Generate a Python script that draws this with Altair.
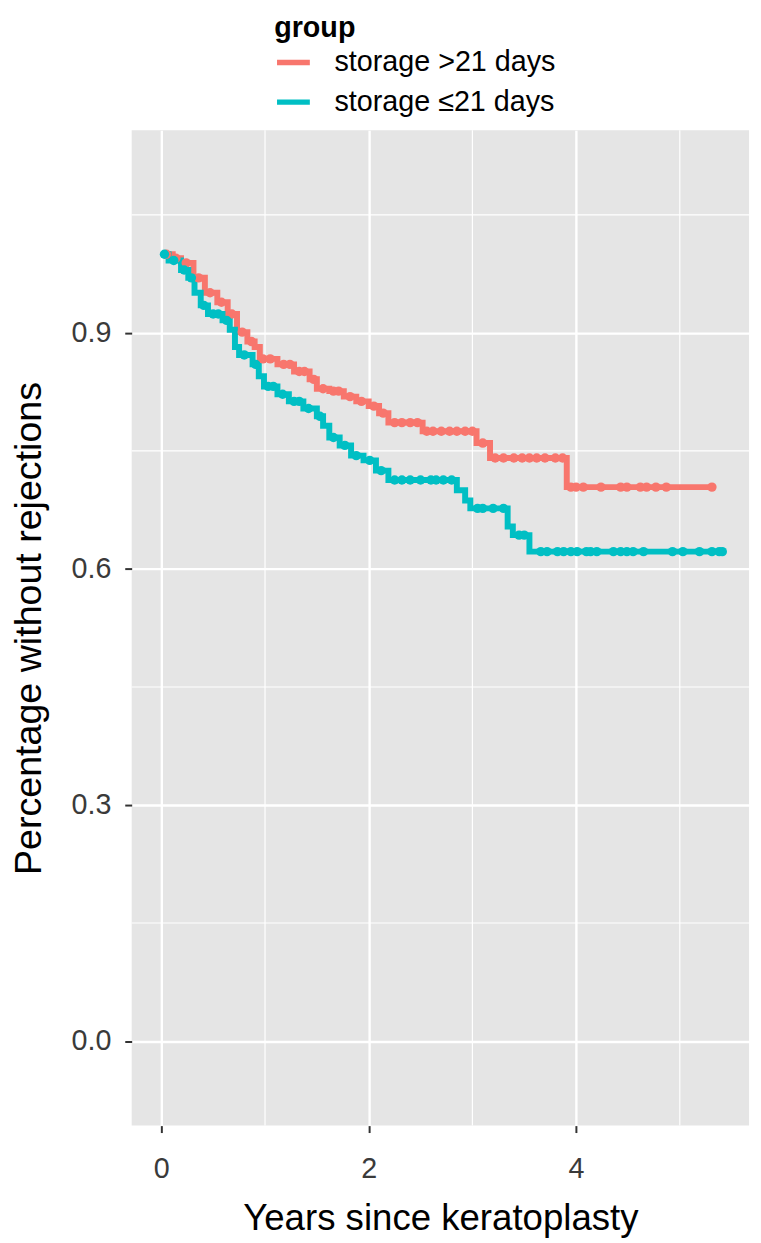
import altair as alt
import pandas as pd

groups = ["storage >21 days", "storage \u226421 days"]
colors = ["#F8766D", "#00BFC4"]

# Kaplan-Meier steps: storage >21 days
red_time = [0.00, 0.11, 0.19, 0.31, 0.42, 0.54, 0.64, 0.73, 0.83, 0.90, 0.95, 1.12, 1.28,
            1.43, 1.50, 1.62, 1.76, 1.88, 2.00, 2.10, 2.19, 2.52, 3.04, 3.17, 3.91, 5.31]
red_surv = [1.000, 0.995, 0.989, 0.970, 0.951, 0.939, 0.924, 0.901, 0.889, 0.882, 0.867, 0.860, 0.851,
            0.841, 0.829, 0.826, 0.819, 0.813, 0.807, 0.798, 0.786, 0.775, 0.760, 0.741, 0.704, 0.704]
red_censor = [0.05, 0.14, 0.24, 0.36, 0.47, 0.58, 0.68, 0.78, 0.87, 0.98, 1.05, 1.18, 1.24, 1.33,
              1.38, 1.47, 1.56, 1.66, 1.71, 1.82, 1.93, 2.05, 2.14, 2.25, 2.32, 2.40, 2.47, 2.56,
              2.62, 2.70, 2.78, 2.85, 2.93, 3.00, 3.10, 3.22, 3.30, 3.40, 3.48, 3.55, 3.62, 3.70,
              3.80, 3.87, 3.95, 4.00, 4.07, 4.24, 4.43, 4.49, 4.62, 4.68, 4.77, 4.87, 5.31]

# Kaplan-Meier steps: storage <=21 days
teal_time = [0.00, 0.07, 0.19, 0.26, 0.32, 0.38, 0.45, 0.59, 0.66, 0.71, 0.75, 0.88, 0.94, 0.99,
             1.12, 1.23, 1.37, 1.50, 1.56, 1.62, 1.72, 1.83, 1.95, 2.07, 2.19, 2.85, 2.93, 2.98,
             3.34, 3.39, 3.55, 5.41]
teal_surv = [1.000, 0.992, 0.980, 0.970, 0.951, 0.935, 0.924, 0.916, 0.904, 0.882, 0.872, 0.860,
             0.845, 0.832, 0.822, 0.813, 0.804, 0.794, 0.782, 0.767, 0.757, 0.744, 0.738, 0.725,
             0.713, 0.700, 0.687, 0.677, 0.654, 0.643, 0.622, 0.622]
teal_censor = [0.03, 0.12, 0.22, 0.29, 0.41, 0.50, 0.55, 0.63, 0.80, 0.91, 1.03, 1.08, 1.17, 1.28,
               1.33, 1.42, 1.53, 1.66, 1.77, 1.88, 2.01, 2.12, 2.25, 2.32, 2.40, 2.50, 2.60, 2.65,
               2.72, 2.80, 3.05, 3.10, 3.20, 3.30, 3.45, 3.50, 3.66, 3.72, 3.82, 3.88, 3.95, 4.01,
               4.10, 4.14, 4.20, 4.36, 4.43, 4.49, 4.55, 4.65, 4.93, 5.03, 5.19, 5.31, 5.38, 5.41]

x_major = [0, 2, 4]
y_major = [0.0, 0.3, 0.6, 0.9]
x_minor = [1, 3, 5]
y_minor = [0.15, 0.45, 0.75, 1.05]

x_domain = [-0.286, 5.668]
y_domain = [-0.1075, 1.1575]


def surv_at(times, survs, t):
    v = survs[0]
    for ti, si in zip(times, survs):
        if ti <= t:
            v = si
    return v


steps = pd.concat([
    pd.DataFrame({"t": red_time, "s": red_surv, "group": groups[0]}),
    pd.DataFrame({"t": teal_time, "s": teal_surv, "group": groups[1]}),
])
cens = pd.concat([
    pd.DataFrame({"t": red_censor, "s": [surv_at(red_time, red_surv, t) for t in red_censor],
                  "group": groups[0]}),
    pd.DataFrame({"t": teal_censor, "s": [surv_at(teal_time, teal_surv, t) for t in teal_censor],
                  "group": groups[1]}),
])

FONT = "Liberation Sans"

xenc = alt.X("t:Q", scale=alt.Scale(domain=x_domain, nice=False, zero=False),
             title="Years since keratoplasty",
             axis=alt.Axis(values=x_major, format="d", grid=True, gridColor="white", gridWidth=2.4,
                           domain=False, tickColor="#333333", tickSize=7, tickWidth=2,
                           labelFontSize=29, labelColor="#3A3A3A", labelPadding=22, labelFont=FONT,
                           titleFontSize=37, titleColor="black", titleFontWeight="normal",
                           titleFont=FONT, titlePadding=18))
yenc = alt.Y("s:Q", scale=alt.Scale(domain=y_domain, nice=False, zero=False),
             title="Percentage without rejections",
             axis=alt.Axis(values=y_major, format=".1f", grid=True, gridColor="white", gridWidth=2.4,
                           domain=False, tickColor="#333333", tickSize=7, tickWidth=2,
                           labelFontSize=29, labelColor="#3A3A3A", labelPadding=14, labelFont=FONT,
                           titleFontSize=38, titleColor="black", titleFontWeight="normal",
                           titleFont=FONT, titlePadding=23))

color = alt.Color("group:N", scale=alt.Scale(domain=groups, range=colors),
                  legend=alt.Legend(title="group", orient="none", legendX=144, legendY=-117,
                                    direction="vertical", symbolType="stroke", symbolSize=1100,
                                    symbolStrokeWidth=5.5, titleFontSize=29, titleFontWeight="bold",
                                    titleFont=FONT, titleColor="black", titlePadding=0,
                                    labelFontSize=29, labelFont=FONT, labelColor="black",
                                    labelLimit=0, labelOffset=22, rowPadding=5))

vminor = alt.Chart(pd.DataFrame({"t": x_minor})).mark_rule(color="white", strokeWidth=1.2).encode(x=xenc)
hminor = alt.Chart(pd.DataFrame({"s": y_minor})).mark_rule(color="white", strokeWidth=1.2).encode(y=yenc)

lines = alt.Chart(steps).mark_line(interpolate="step-after", strokeWidth=6).encode(
    x=xenc, y=yenc, color=color, detail="group:N")
points = alt.Chart(cens).mark_circle(size=90, opacity=1).encode(
    x=xenc, y=yenc, color=alt.Color("group:N", scale=alt.Scale(domain=groups, range=colors), legend=None))

chart = alt.layer(vminor, hminor, lines, points).properties(
    width=624, height=1006,
    autosize=alt.AutoSizeParams(type="none"),
    padding={"left": 125, "top": 117, "right": 4, "bottom": 110},
).configure_view(fill="#E5E5E5", strokeWidth=0)

chart.save("out.html", embed_options={"renderer": "svg", "actions": False})
